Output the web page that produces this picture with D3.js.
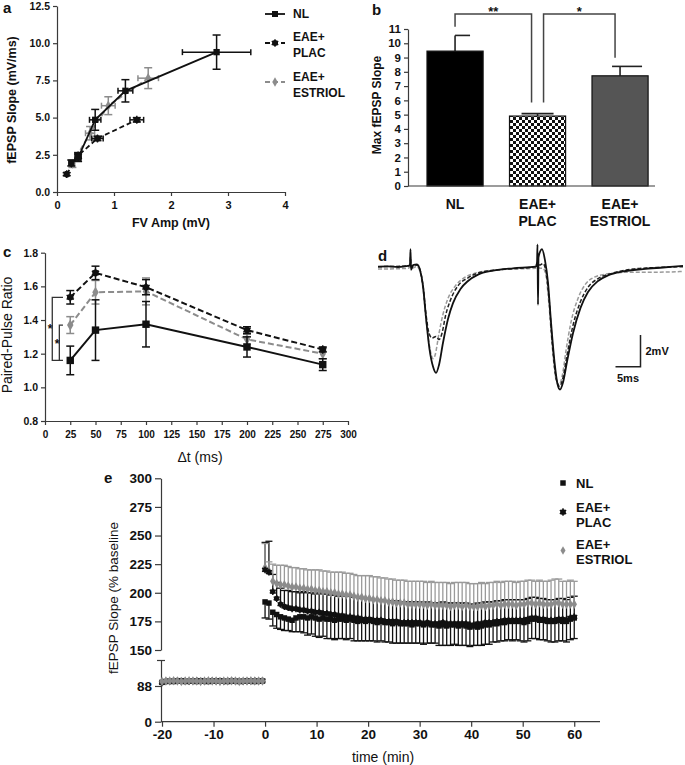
<!DOCTYPE html>
<html><head><meta charset="utf-8">
<script src="https://cdn.jsdelivr.net/npm/d3@7"></script>
<style>body{margin:0;background:#fff} svg text{font-family:"Liberation Sans",Arial,sans-serif}</style>
</head><body><svg id="fig" width="685" height="765"></svg>
<script>
// ---------- Panel a: input-output ----------
const aNLx = [0.25, 0.37, 0.67, 1.2, 2.8];
const aNLy = [1.95, 2.3, 4.85, 6.8, 9.4];
const aNLxe = [0.03, 0.05, 0.1, 0.13, 0.6];
const aNLye = [0.2, 0.25, 0.7, 0.75, 1.15];
const aPLx = [0.17, 0.37, 0.71, 1.40];
const aPLy = [1.2, 2.45, 3.6, 4.85];
const aPLxe = [0.02, 0.05, 0.1, 0.12];
const aPLye = [0.1, 0.2, 0.15, 0.15];
const aESx = [0.27, 0.58, 0.9, 1.6];
const aESy = [1.9, 3.95, 5.8, 7.65];
const aESxe = [0.04, 0.08, 0.12, 0.18];
const aESye = [0.25, 0.45, 0.6, 0.7];
const aXTicks = [0, 1, 2, 3, 4];
const aYTicks = [0, 2.5, 5, 7.5, 10, 12.5];

// ---------- Panel b: max slope ----------
const bGroups = ["NL", "EAE+ PLAC", "EAE+ ESTRIOL"];
const bValues = [9.45, 4.9, 7.72];
const bErrors = [1.1, 0.17, 0.66];
const bYTicks = [0,1,2,3,4,5,6,7,8,9,10,11];

// ---------- Panel c: paired-pulse ----------
const cTimes = [25, 50, 100, 200, 275];
const cNL = [1.16, 1.34, 1.375, 1.24, 1.135];
const cNLe = [0.085, 0.18, 0.135, 0.06, 0.035];
const cPL = [1.535, 1.68, 1.595, 1.34, 1.225];
const cPLe = [0.04, 0.04, 0.045, 0.02, 0.015];
const cES = [1.37, 1.565, 1.57, 1.285, 1.20];
const cESe = [0.05, 0.07, 0.08, 0.03, 0.03];
const cXTicks = [0,25,50,75,100,125,150,175,200,225,250,275,300];
const cYTicks = [0.8,1.0,1.2,1.4,1.6,1.8];

// ---------- Panel d: traces (ms, mV) ----------
const dNL = [[0,0],[2,0.02],[4,-0.02],[6,0.05],[6.4,0.1],[6.5,1.1],[6.6,-0.2],[7,0.1],[7.8,0.15],[8.4,-0.2],[9,-1.2],[9.6,-3.2],[10.3,-5.2],[11.0,-6.3],[11.6,-6.7],[12.2,-6.2],[13.0,-4.8],[14,-3.3],[15,-2.3],[16.5,-1.4],[18,-0.9],[20,-0.5],[23,-0.25],[27,-0.1],[31.5,0.0],[31.8,0.2],[31.9,1.4],[32.0,-2.4],[32.1,0.6],[32.8,1.1],[33.4,0.4],[34,-1.0],[34.6,-3.5],[35.3,-6.0],[35.9,-7.4],[36.4,-7.75],[37.0,-7.3],[37.8,-6.0],[39,-4.2],[40.5,-2.6],[42,-1.6],[44,-0.9],[46,-0.55],[49,-0.3],[53,-0.15],[57,-0.05],[61,0.05]];
const dPL = [[0,0],[6,0.05],[6.4,0.1],[6.5,0.6],[6.6,0],[7.8,0.1],[8.4,-0.2],[9,-1.2],[9.6,-3.0],[10.2,-4.2],[10.8,-4.5],[11.6,-4.4],[12.2,-4.6],[12.8,-4.2],[13.5,-3.1],[14.5,-2.1],[16,-1.2],[18,-0.7],[20,-0.4],[24,-0.2],[31.5,0.0],[31.9,0.3],[32.3,0.1],[33,0.2],[33.6,-0.3],[34.2,-2.0],[34.9,-5.0],[35.6,-7.0],[36.3,-7.55],[37,-7.0],[37.8,-5.6],[39,-3.7],[40.5,-2.2],[42,-1.3],[44,-0.75],[47,-0.4],[51,-0.15],[56,-0.05],[61,0.0]];
const dES = [[0,-0.15],[6,-0.1],[6.4,0],[6.5,0.4],[6.6,-0.1],[7.8,0.0],[8.4,-0.3],[9,-1.4],[9.6,-3.3],[10.3,-5.0],[11.0,-5.8],[11.4,-5.6],[12.2,-4.2],[13,-3.0],[14,-2.0],[15.5,-1.2],[17,-0.75],[19,-0.45],[22,-0.25],[27,-0.15],[31.5,-0.1],[31.9,0.2],[32.3,-0.1],[33,-0.1],[33.6,-0.6],[34.2,-2.4],[34.9,-5.2],[35.6,-7.1],[36.2,-7.45],[36.9,-6.8],[37.6,-5.3],[38.6,-3.5],[40,-2.0],[41.5,-1.1],[43,-0.7],[46,-0.45],[50,-0.35],[55,-0.35],[61,-0.3]];
const dScaleMs = 5, dScaleMv = 2;

// ---------- Panel e: LTP ----------
const eBaseTimes = d3.range(-20, -0.49, 0.75);
const ePostTimes = d3.range(0, 60.01, 0.75);
const eNLbase = [97,99,100,99,100,101,99,100,100,99,101,100,99,100,100,101,100,99,100,100,99,100,101,100,99,100,100];
const ePLbase = [96,100,99,100,101,100,100,99,100,101,100,99,100,101,100,100,99,100,101,100,100,99,100,100,101,100,101];
const eESbase = [99,100,100,101,100,99,100,101,100,100,99,100,101,100,100,99,100,100,101,100,99,100,100,101,100,100,100];
const eNL = [192,191,183,181,179,178,177,176,178,179, 179,178,179,178,177,178,177,177,176,177, 177,176,177,176,175,176,175,176,175,174, 175,174,174,173,174,173,173,173,172,173, 173,172,173,172,172,171,172,171,172,172, 171,172,171,170,171,170,171,172,172,173, 173,174,174,175,175,175,175,174,175,177, 177,176,176,175,175,175,176,175,175,177,178];
const eNLe = [14,14,12,12,11,11,10,10,12,13, 14,15,15,16,16,16,17,17,17,17, 17,17,17,18,17,18,17,18,17,17, 17,17,17,17,18,17,17,17,16,17, 17,17,17,16,16,17,18,17,18,17, 17,18,17,17,17,16,17,17,17,16, 16,16,16,16,17,16,17,17,17,17, 17,17,17,17,18,18,18,17,18,18,18];
const ePL = [220,218,201,195,190,188,187,186,186,185, 185,184,184,183,183,182,182,181,181,180, 180,179,179,178,178,177,177,177,176,176, 176,175,175,175,175,174,174,174,174,174, 174,173,174,173,173,173,174,173,173,173, 173,173,173,172,172,173,173,174,174,174, 175,175,176,176,176,176,176,176,177,178, 178,177,177,176,176,176,177,177,176,178,179];
const ePLe = [24,27,15,14,14,14,15,15,15,15, 16,16,16,16,17,17,17,17,17,17, 18,18,18,18,18,18,18,18,18,18, 18,18,18,18,18,18,18,18,18,18, 18,18,18,18,18,18,18,18,18,18, 18,18,18,18,18,18,18,18,18,18, 18,18,18,18,18,18,18,18,18,18, 18,18,18,18,18,18,18,18,18,18,18];
const eES = [222,219,210,208,207,207,206,205,205,204, 204,203,203,202,202,201,201,200,200,199, 199,198,198,197,196,196,195,195,194,194, 193,193,192,192,191,191,191,190,190,190, 190,190,189,190,189,189,189,189,188,189, 189,188,189,188,188,188,189,188,189,189, 190,189,190,190,190,189,190,190,191,191, 190,191,190,190,190,191,191,190,190,190,190];
const eESe = [21,8,15,16,17,17,17,17,17,17, 17,17,17,18,18,18,18,18,18,19, 19,19,19,19,19,19,20,20,20,20, 20,20,20,20,20,20,20,20,20,20, 20,20,20,20,20,20,20,20,20,20, 20,21,20,20,20,20,20,20,20,20, 20,20,20,20,20,20,20,20,20,20, 20,20,20,20,21,21,21,20,20,21,20];
const eXTicks = [-20,-10,0,10,20,30,40,50,60];
const eYTicksUpper = [150,175,200,225,250,275,300];
const eYTicksLower = [0,88,152];

const seriesNames = ["NL", "EAE+", "PLAC", "ESTRIOL"];

// ---------- helpers ----------
const svg = d3.select("#fig");
svg.append("rect").attr("width",685).attr("height",765).attr("fill","#fff");
const FONT = '"Liberation Sans",Arial,sans-serif';
const GRAY = "#8c8c8c";
const AX = "#3a3a3a";

function styleAxis(g, fs, weight){
  g.attr("font-family", FONT);
  g.select(".domain").attr("stroke", AX).attr("stroke-width", 1.2);
  g.selectAll(".tick line").attr("stroke", AX).attr("stroke-width", 1.2);
  g.selectAll(".tick text").attr("font-size", fs).attr("font-weight", weight).attr("fill", "#111");
}
function txt(x, y, s, opt={}){
  const t = svg.append("text").attr("x",x).attr("y",y).text(s)
    .attr("font-size", opt.fs||12).attr("font-weight", opt.fw||"bold")
    .attr("text-anchor", opt.anchor||"start").attr("fill", opt.fill||"#111");
  if (opt.rotate) t.attr("transform", `rotate(-90,${x},${y})`);
  return t;
}
const sym = (type, size) => d3.symbol().type(type).size(size)();
const AST = d3.symbolAsterisk || d3.symbolCross;
// marker kinds: "sq" square, "blob" circle+asterisk, "dia" diamond
function marker(g, kind, cx, cy, size, color){
  if (kind === "sq") {
    g.append("path").attr("d", sym(d3.symbolSquare, size)).attr("transform",`translate(${cx},${cy})`).attr("fill",color);
  } else if (kind === "dia") {
    g.append("path").attr("d", sym(d3.symbolDiamond, size)).attr("transform",`translate(${cx},${cy})`).attr("fill",color);
  } else {
    g.append("path").attr("d", sym(d3.symbolCircle, size*0.75)).attr("transform",`translate(${cx},${cy})`).attr("fill",color);
    g.append("path").attr("d", sym(AST, size*1.1)).attr("transform",`translate(${cx},${cy})`).attr("fill","none").attr("stroke",color).attr("stroke-width",1.4);
  }
}

// ================= Panel a =================
(function(){
  const x = d3.scaleLinear().domain([0,4]).range([57,285]);
  const y = d3.scaleLinear().domain([0,12.5]).range([192,6]);
  const g = svg.append("g");
  const gy = g.append("g").attr("transform","translate(57,0)")
    .call(d3.axisLeft(y).tickValues(aYTicks).tickFormat(d3.format(".1f")).tickSize(4).tickSizeOuter(0));
  styleAxis(gy, 10.5, "bold");
  const gx = g.append("g").attr("transform","translate(0,192)")
    .call(d3.axisBottom(x).tickValues(aXTicks).tickFormat(d3.format("d")).tickSize(4).tickSizeOuter(0));
  styleAxis(gx, 11, "bold");
  gx.selectAll(".tick text").attr("dy","0.9em");

  const series = [
    {xs:aNLx, ys:aNLy, xe:aNLxe, ye:aNLye, color:"#111", dash:null, kind:"sq", size:40},
    {xs:aPLx, ys:aPLy, xe:aPLxe, ye:aPLye, color:"#111", dash:"5,3", kind:"blob", size:40},
    {xs:aESx, ys:aESy, xe:aESxe, ye:aESye, color:GRAY, dash:"5,3", kind:"dia", size:30}
  ];
  const line = d3.line().x(d=>x(d[0])).y(d=>y(d[1]));
  series.slice().reverse().forEach(s=>{
    const pts = s.xs.map((v,i)=>[v, s.ys[i]]);
    g.append("path").attr("d", line(pts)).attr("fill","none").attr("stroke",s.color)
      .attr("stroke-width",1.8).attr("stroke-dasharray", s.dash);
    pts.forEach((p,i)=>{
      const cx = x(p[0]), cy = y(p[1]);
      const x0 = x(p[0]-s.xe[i]), x1 = x(p[0]+s.xe[i]);
      const y0 = y(p[1]-s.ye[i]), y1 = y(p[1]+s.ye[i]);
      const eg = g.append("g").attr("stroke", s.color).attr("stroke-width",1.5);
      eg.append("line").attr("x1",x0).attr("x2",x1).attr("y1",cy).attr("y2",cy);
      eg.append("line").attr("x1",x0).attr("x2",x0).attr("y1",cy-3).attr("y2",cy+3);
      eg.append("line").attr("x1",x1).attr("x2",x1).attr("y1",cy-3).attr("y2",cy+3);
      eg.append("line").attr("x1",cx).attr("x2",cx).attr("y1",y0).attr("y2",y1);
      eg.append("line").attr("x1",cx-4).attr("x2",cx+4).attr("y1",y0).attr("y2",y0);
      eg.append("line").attr("x1",cx-4).attr("x2",cx+4).attr("y1",y1).attr("y2",y1);
      marker(g, s.kind, cx, cy, s.size, s.color);
    });
  });
  // legend
  const leg = [[14, "#111", null, "sq", 36], [43, "#111", "5,3", "blob", 36], [82, GRAY, "5,3", "dia", 26]];
  leg.forEach(l=>{
    g.append("line").attr("x1",265).attr("x2",285).attr("y1",l[0]).attr("y2",l[0]).attr("stroke",l[1]).attr("stroke-width",1.8).attr("stroke-dasharray",l[2]);
    marker(g, l[3], 275, l[0], l[4], l[1]);
  });
  txt(293, 18, seriesNames[0], {fs:12});
  txt(293, 40.5, seriesNames[1], {fs:12});
  txt(293, 56.5, seriesNames[2], {fs:12});
  txt(293, 80.5, seriesNames[1], {fs:12});
  txt(293, 96.5, seriesNames[3], {fs:12});
  txt(16, 100, "fEPSP Slope (mV/ms)", {fs:12.5, anchor:"middle", rotate:true});
  txt(171, 227, "FV Amp (mV)", {fs:12.5, anchor:"middle"});
  txt(3, 13, "a", {fs:15});
})();

// ================= Panel b =================
(function(){
  const y = d3.scaleLinear().domain([0,11]).range([186,29]);
  const x = d3.scaleBand().domain(bGroups).range([410.5, 664.6]).paddingInner(0.32).paddingOuter(0.2);
  const defs = svg.append("defs");
  const pat = defs.append("pattern").attr("id","checker").attr("patternUnits","userSpaceOnUse").attr("width",6).attr("height",6);
  pat.append("rect").attr("width",6).attr("height",6).attr("fill","#fff");
  pat.append("rect").attr("width",3).attr("height",3).attr("fill","#111");
  pat.append("rect").attr("x",3).attr("y",3).attr("width",3).attr("height",3).attr("fill","#111");
  const g = svg.append("g");
  const fills = ["#000", "url(#checker)", "#555"];
  const capL = [0, 16, 8], capR = [15, 16, 22];
  bGroups.forEach((k,i)=>{
    const cx = x(k) + x.bandwidth()/2;
    g.append("line").attr("x1",cx).attr("x2",cx).attr("y1",y(bValues[i])).attr("y2",y(bValues[i]+bErrors[i])).attr("stroke","#222").attr("stroke-width",1.6);
    g.append("line").attr("x1",cx-capL[i]).attr("x2",cx+capR[i]).attr("y1",y(bValues[i]+bErrors[i])).attr("y2",y(bValues[i]+bErrors[i])).attr("stroke","#222").attr("stroke-width",1.6);
    g.append("rect").attr("x",x(k)).attr("width",x.bandwidth()).attr("y",y(bValues[i])).attr("height",y(0)-y(bValues[i]))
      .attr("fill",fills[i]).attr("stroke","#111").attr("stroke-width",1.2);
  });
  const gy = g.append("g").attr("transform","translate(408,0)")
    .call(d3.axisLeft(y).tickValues(bYTicks).tickSize(4).tickSizeOuter(0));
  styleAxis(gy, 11.5, "bold");
  g.append("line").attr("x1",408).attr("x2",655).attr("y1",186).attr("y2",186).attr("stroke",AX).attr("stroke-width",1.2);
  const c = bGroups.map(k=>x(k)+x.bandwidth()/2);
  const topV = 12.05;
  const br = g.append("g").attr("stroke","#444").attr("stroke-width",1.5).attr("fill","none");
  br.append("path").attr("d",`M${c[0]},${y(11.15)}V${y(topV)}H${c[1]-6}V${y(5.85)}`);
  br.append("path").attr("d",`M${c[1]+6},${y(5.85)}V${y(topV)}H${c[2]-5}V${y(8.98)}`);
  txt((c[0]+c[1]-6)/2, 16, "**", {fs:13, anchor:"middle"});
  txt((c[1]+6+c[2]-5)/2, 16, "*", {fs:13, anchor:"middle"});
  txt(c[0], 209, "NL", {fs:14, anchor:"middle"});
  txt(c[1], 209, "EAE+", {fs:14, anchor:"middle"});
  txt(c[1], 226, "PLAC", {fs:14, anchor:"middle"});
  txt(c[2], 209, "EAE+", {fs:14, anchor:"middle"});
  txt(c[2], 226, "ESTRIOL", {fs:14, anchor:"middle"});
  txt(381, 105, "Max fEPSP Slope", {fs:12, anchor:"middle", rotate:true});
  txt(372, 15, "b", {fs:15});
})();

// ================= Panel c =================
(function(){
  const x = d3.scaleLinear().domain([0,300]).range([45,348]);
  const y = d3.scaleLinear().domain([0.8,1.8]).range([421,252.7]);
  const g = svg.append("g");
  const gy = g.append("g").attr("transform","translate(45,0)")
    .call(d3.axisLeft(y).tickValues(cYTicks).tickFormat(d3.format(".1f")).tickSize(4).tickSizeOuter(0));
  styleAxis(gy, 10.5, "bold");
  const gx = g.append("g").attr("transform","translate(0,421)")
    .call(d3.axisBottom(x).tickValues(cXTicks).tickSize(4).tickSizeOuter(0));
  styleAxis(gx, 10, "bold");
  gx.selectAll(".tick text").attr("dy","0.95em");
  const series = [
    {v:cES, e:cESe, color:GRAY, dash:"6,3", kind:"dia", size:36},
    {v:cPL, e:cPLe, color:"#111", dash:"6,3", kind:"blob", size:45},
    {v:cNL, e:cNLe, color:"#111", dash:null, kind:"sq", size:55}
  ];
  const line = d3.line().x(d=>x(d[0])).y(d=>y(d[1]));
  series.forEach(s=>{
    const pts = cTimes.map((t,i)=>[t, s.v[i]]);
    g.append("path").attr("d", line(pts)).attr("fill","none").attr("stroke",s.color).attr("stroke-width",2).attr("stroke-dasharray",s.dash);
    pts.forEach((p,i)=>{
      const cx = x(p[0]);
      const eg = g.append("g").attr("stroke",s.color).attr("stroke-width",1.5);
      eg.append("line").attr("x1",cx).attr("x2",cx).attr("y1",y(p[1]-s.e[i])).attr("y2",y(p[1]+s.e[i]));
      [p[1]-s.e[i], p[1]+s.e[i]].forEach(v=>eg.append("line").attr("x1",cx-4).attr("x2",cx+4).attr("y1",y(v)).attr("y2",y(v)));
      marker(g, s.kind, cx, y(p[1]), s.size, s.color);
    });
  });
  const br = g.append("g").attr("stroke","#333").attr("stroke-width",1.3).attr("fill","none");
  br.append("path").attr("d",`M${x(17.8)},${y(cPL[0])}H${x(7.2)}V${y(cNL[0])}H${x(17.8)}`);
  br.append("path").attr("d",`M${x(17.8)},${y(cES[0])}H${x(14.2)}V${y(cNL[0])}`);
  txt(x(5), 333, "*", {fs:12, anchor:"middle"});
  txt(x(12), 348, "*", {fs:12, anchor:"middle"});
  txt(12, 335, "Paired-Pulse Ratio", {fs:14, fw:"normal", anchor:"middle", rotate:true});
  txt(200, 462, "Δt (ms)", {fs:14, fw:"normal", anchor:"middle"});
  txt(3, 257, "c", {fs:15});
})();

// ================= Panel d =================
(function(){
  const x = d3.scaleLinear().domain([0,61]).range([378,683]);
  const y = d3.scaleLinear().domain([-8,2]).range([393.5,235]);
  const g = svg.append("g");
  const line = d3.line().x(d=>x(d[0])).y(d=>y(d[1])).curve(d3.curveMonotoneX);
  g.append("path").attr("d",line(dES)).attr("fill","none").attr("stroke","#9a9a9a").attr("stroke-width",1.5).attr("stroke-dasharray","4,2");
  g.append("path").attr("d",line(dPL)).attr("fill","none").attr("stroke","#222").attr("stroke-width",1.5).attr("stroke-dasharray","4,2");
  g.append("path").attr("d",line(dNL)).attr("fill","none").attr("stroke","#111").attr("stroke-width",1.8);
  const sbT = 52.5, sbV = -6.31;
  g.append("path").attr("d",`M${x(sbT-dScaleMs)},${y(sbV)}H${x(sbT)}V${y(sbV+dScaleMv)}`).attr("fill","none").attr("stroke","#222").attr("stroke-width",1.5);
  txt(x(sbT)+5, y(sbV+dScaleMv/2)+4, "2mV", {fs:11});
  txt(x(sbT-dScaleMs/2), y(sbV)+15, "5ms", {fs:11, anchor:"middle"});
  txt(378, 261, "d", {fs:15});
})();

// ================= Panel e =================
(function(){
  const x = d3.scaleLinear().domain([-20,65]).range([162,600]);
  const yU = d3.scaleLinear().domain([150,300]).range([650,478.3]);
  const yL = d3.scaleLinear().domain([0,152]).range([721.7,660]);
  const g = svg.append("g");
  const gyU = g.append("g").attr("transform","translate(161,0)")
    .call(d3.axisLeft(yU).tickValues(eYTicksUpper).tickSize(6).tickSizeOuter(0));
  styleAxis(gyU, 13.5, "bold");
  const gyL = g.append("g").attr("transform","translate(161,0)")
    .call(d3.axisLeft(yL).tickValues(eYTicksLower).tickFormat(d=>d===152?"":String(d)).tickSize(6).tickSizeOuter(0));
  styleAxis(gyL, 13.5, "bold");
  gyL.selectAll(".tick line").attr("x2", d=>d===152?-4:-6).attr("x1", d=>d===152?4:0);
  const gx = g.append("g").attr("transform","translate(0,721.7)")
    .call(d3.axisBottom(x).tickValues(eXTicks).tickFormat(d=>String(d)).tickSize(5).tickSizeOuter(0));
  styleAxis(gx, 13.5, "bold");
  gx.select(".domain").attr("d","M161,0H600");

  const sets = {
    ES: {base:eESbase, post:eES, err:eESe, dir:1, color:GRAY, kind:"dia", size:26},
    PL: {base:ePLbase, post:ePL, err:ePLe, dir:1, color:"#111", kind:"blob", size:30},
    NL: {base:eNLbase, post:eNL, err:eNLe, dir:-1, color:"#111", kind:"sq", size:30}
  };
  [sets.NL, sets.PL, sets.ES].forEach(s=>{
    const eg = g.append("g").attr("stroke", s.color===GRAY?"#9a9a9a":"#111").attr("stroke-width",1.3);
    ePostTimes.forEach((t,i)=>{
      const cx = x(t), y0 = yU(s.post[i]), y1 = yU(s.post[i] + s.dir*s.err[i]);
      eg.append("line").attr("x1",cx).attr("x2",cx).attr("y1",y0).attr("y2",y1);
      eg.append("line").attr("x1",cx-3.5).attr("x2",cx+3.5).attr("y1",y1).attr("y2",y1);
    });
  });
  // baseline: ESTRIOL drawn last (grey band with dark edges)
  [sets.NL, sets.PL, sets.ES].forEach(s=>{
    const mg = g.append("g");
    eBaseTimes.forEach((t,i)=> marker(mg, s.kind, x(t), yL(s.base[i]), s.size, s.color===GRAY?"#8a8a8a":"#222"));
  });
  // post: NL on top
  [sets.ES, sets.PL, sets.NL].forEach(s=>{
    const mg = g.append("g");
    ePostTimes.forEach((t,i)=> marker(mg, s.kind, x(t), yU(s.post[i]), s.size, s.color));
  });
  // legend
  marker(g, "sq", 563, 483, 30, "#111");
  marker(g, "blob", 563, 512, 34, "#111");
  marker(g, "dia", 563, 550.5, 22, GRAY);
  txt(576, 488, seriesNames[0], {fs:13});
  txt(576, 512, seriesNames[1], {fs:13});
  txt(576, 527, seriesNames[2], {fs:13});
  txt(576, 549, seriesNames[1], {fs:13});
  txt(576, 564, seriesNames[3], {fs:13});
  txt(118, 598, "fEPSP Slope (% baseline", {fs:13.5, fw:"normal", anchor:"middle", rotate:true});
  txt(383, 762, "time (min)", {fs:14, fw:"normal", anchor:"middle"});
  txt(104, 483, "e", {fs:15});
})();
</script></body></html>
